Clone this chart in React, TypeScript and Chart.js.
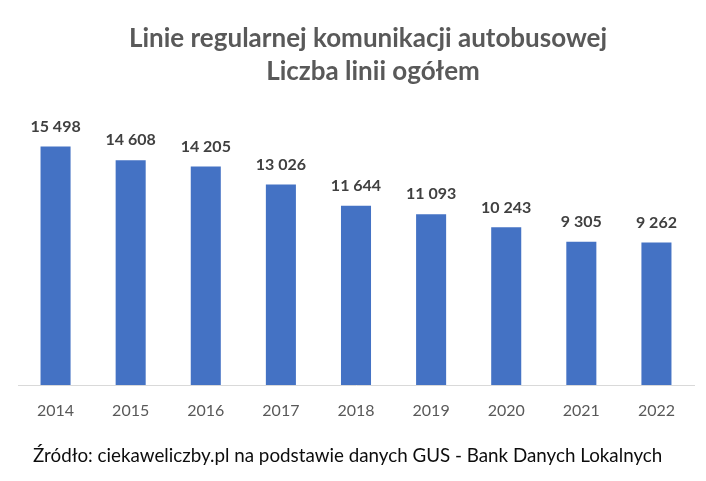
import React, { useEffect, useRef } from "react";
import { Chart, registerables } from "chart.js";

Chart.register(...registerables);

const years = ["2014", "2015", "2016", "2017", "2018", "2019", "2020", "2021", "2022"];
const lineCounts = [15498, 14608, 14205, 13026, 11644, 11093, 10243, 9305, 9262];
const titleLines = ["Linie regularnej komunikacji autobusowej", "Liczba linii ogółem"];
const sourceText = "Źródło: ciekaweliczby.pl na podstawie danych GUS - Bank Danych Lokalnych";

const FONT = "Lato, 'Open Sans', sans-serif";

function fmt(v: number): string {
  const s = String(Math.round(v));
  return s.replace(/\B(?=(\d{3})+(?!\d))/g, " ");
}

const decorPlugin = {
  id: "decor",
  afterDatasetsDraw(chart: any) {
    const ctx = chart.ctx;
    ctx.save();
    // title
    ctx.fillStyle = "#595959";
    ctx.font = `bold 26px ${FONT}`;
    ctx.textAlign = "center";
    ctx.textBaseline = "middle";
    ctx.fillText(titleLines[0], 368, 39);
    ctx.fillText(titleLines[1], 373, 72);
    // data labels
    const meta = chart.getDatasetMeta(0);
    ctx.fillStyle = "#404040";
    ctx.font = `bold 16px ${FONT}`;
    meta.data.forEach((el: any, i: number) => {
      ctx.fillText(fmt(lineCounts[i]), el.x, el.y - 20);
    });
    // source
    ctx.fillStyle = "#0d0d0d";
    ctx.font = `18.8px ${FONT}`;
    ctx.textAlign = "left";
    ctx.fillText(sourceText, 33, 456);
    ctx.restore();
  },
};

export default function App() {
  const ref = useRef<HTMLCanvasElement>(null);
  useEffect(() => {
    document.body.style.margin = "0";
    const chart = new Chart(ref.current!, {
      type: "bar",
      data: {
        labels: years,
        datasets: [
          {
            data: lineCounts,
            backgroundColor: "#4472C4",
            categoryPercentage: 1,
            barPercentage: 0.4,
          },
        ],
      },
      options: {
        animation: false,
        responsive: false,
        maintainAspectRatio: false,
        layout: { padding: { left: 18, right: 12, top: 108, bottom: 0 } },
        plugins: { legend: { display: false }, title: { display: false }, tooltip: { enabled: false } },
        scales: {
          x: {
            grid: { display: false, drawTicks: false },
            border: { display: true, color: "#d9d9d9", width: 1 },
            ticks: { color: "#595959", font: { family: FONT, size: 16 }, padding: 16 },
            afterFit: (scale: any) => {
              scale.height = 96;
            },
          },
          y: { display: false, min: 0, max: 18000 },
        },
      },
      plugins: [decorPlugin],
    });
    return () => chart.destroy();
  }, []);
  return (
    <div style={{ position: "absolute", left: 0, top: 0, width: 706, height: 481, background: "#fff" }}>
      <canvas ref={ref} width={706} height={481} style={{ width: 706, height: 481 }} />
    </div>
  );
}
